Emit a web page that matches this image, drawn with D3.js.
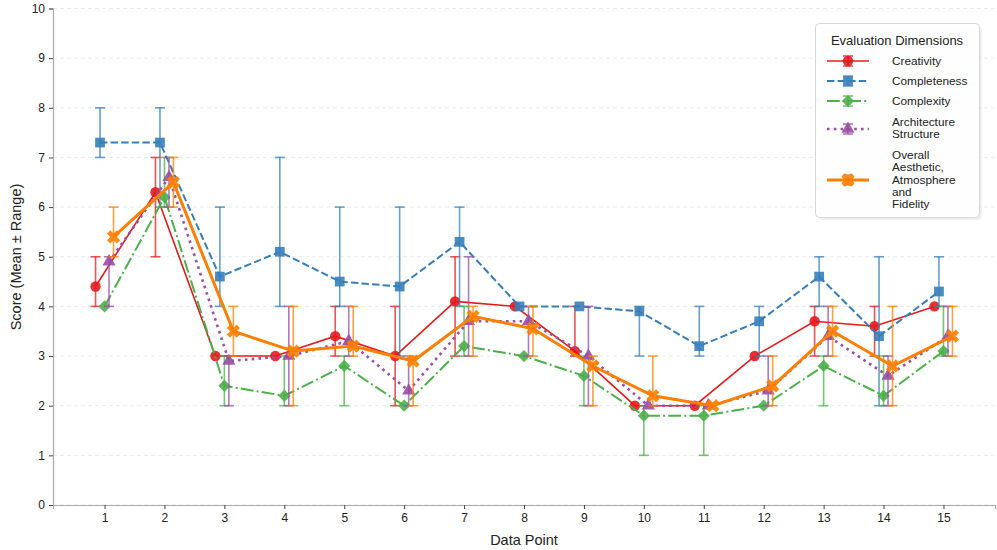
<!DOCTYPE html>
<html>
<head>
<meta charset="utf-8">
<script src="https://cdn.jsdelivr.net/npm/d3@7"></script>
<style>
  body { margin: 0; background: #fff; }
  text { font-family: "Liberation Sans", Arial, Helvetica, sans-serif; fill: #222; }
</style>
</head>
<body>
<div id="chart"></div>
<script>
// data points 1..15
var points = d3.range(1, 16);
var seriesNames = ["Creativity", "Completeness", "Complexity", "Architecture Structure", "Overall Aesthetic, Atmosphere and Fidelity"];
var legendLabels = [["Creativity"], ["Completeness"], ["Complexity"], ["Architecture", "Structure"], ["Overall", "Aesthetic,", "Atmosphere", "and", "Fidelity"]];

var creativityMean = [4.4, 6.3, 3.0, 3.0, 3.4, 3.0, 4.1, 4.0, 3.1, 2.0, 2.0, 3.0, 3.7, 3.6, 4.0];
var creativityMin  = [4, 5, 3, 3, 3, 2, 3, 4, 3, 2, 2, 3, 3, 3, 4];
var creativityMax  = [5, 7, 3, 3, 4, 4, 5, 4, 4, 2, 2, 3, 4, 4, 4];

var completenessMean = [7.3, 7.3, 4.6, 5.1, 4.5, 4.4, 5.3, 4.0, 4.0, 3.9, 3.2, 3.7, 4.6, 3.4, 4.3];
var completenessMin  = [7, 6, 4, 4, 4, 3, 4, 4, 4, 3, 3, 3, 4, 2, 4];
var completenessMax  = [8, 8, 6, 7, 6, 6, 6, 4, 4, 4, 4, 4, 5, 5, 5];

var complexityMean = [4.0, 6.2, 2.4, 2.2, 2.8, 2.0, 3.2, 3.0, 2.6, 1.8, 1.8, 2.0, 2.8, 2.2, 3.1];
var complexityMin  = [4, 6, 2, 2, 2, 2, 3, 3, 2, 1, 1, 2, 2, 2, 3];
var complexityMax  = [4, 7, 3, 3, 3, 2, 4, 3, 3, 2, 2, 2, 3, 3, 4];

var architectureMean = [4.9, 6.6, 2.9, 3.0, 3.3, 2.3, 3.7, 3.7, 3.0, 2.0, 2.0, 2.3, 3.4, 2.6, 3.4];
var architectureMin  = [4, 6, 2, 2, 3, 2, 3, 3, 2, 2, 2, 2, 3, 2, 3];
var architectureMax  = [5, 7, 3, 4, 4, 3, 5, 4, 4, 2, 2, 3, 4, 3, 4];

var overallMean = [5.4, 6.5, 3.5, 3.1, 3.2, 2.9, 3.8, 3.55, 2.8, 2.2, 2.0, 2.4, 3.5, 2.8, 3.4];
var overallMin  = [5, 6, 3, 2, 3, 2, 3, 3, 2, 2, 2, 2, 3, 2, 3];
var overallMax  = [6, 7, 4, 4, 4, 3, 4, 4, 3, 3, 2, 3, 4, 4, 4];

var yTicks = d3.range(0, 11);

var colors = ["#e41a1c", "#377eb8", "#4daf4a", "#984ea3", "#ff7f00"];
var offsets = [-0.15, -0.075, 0, 0.075, 0.15];
var widths = [1.6, 2, 2, 2.6, 3];
var dashes = [null, "7.4,3.2", "12.8,3.2,2,3.2", "2.6,4.2", null];
var symbols = [d3.symbolCircle, d3.symbolSquare, d3.symbolSquare, d3.symbolTriangle, d3.symbolCross];
var symSizes = [85, 95, 75, 75, 110];
var symRot = [0, 0, 45, 0, 45];

var allSeries = [
  {mean: creativityMean, lo: creativityMin, hi: creativityMax},
  {mean: completenessMean, lo: completenessMin, hi: completenessMax},
  {mean: complexityMean, lo: complexityMin, hi: complexityMax},
  {mean: architectureMean, lo: architectureMin, hi: architectureMax},
  {mean: overallMean, lo: overallMin, hi: overallMax}
];

var width = 997, height = 550;
var svg = d3.select("#chart").append("svg")
    .attr("width", width)
    .attr("height", height);

var x = d3.scaleLinear().domain([0.14, 15.86]).range([53, 995]);
var y = d3.scaleLinear().domain([0, 10]).range([505, 8.5]);

// grid
svg.append("g").selectAll("line")
    .data(yTicks)
    .enter().append("line")
    .attr("x1", 53).attr("x2", 995)
    .attr("y1", function(d) { return y(d); })
    .attr("y2", function(d) { return y(d); })
    .attr("stroke", "#e4e4e4")
    .attr("stroke-width", 0.8)
    .attr("stroke-dasharray", "4,3");

// axes
var xAxis = svg.append("g")
    .attr("transform", "translate(0,505)")
    .call(d3.axisBottom(x).tickValues(points).tickFormat(d3.format("d")).tickSize(4).tickPadding(4));
var yAxis = svg.append("g")
    .attr("transform", "translate(53,0)")
    .call(d3.axisLeft(y).tickValues(yTicks).tickSize(4).tickPadding(4));
[xAxis, yAxis].forEach(function(a) {
    a.select(".domain").attr("stroke", "#aaa").attr("stroke-width", 1.2);
    a.selectAll(".tick line").attr("stroke", "#444");
    a.selectAll(".tick text").attr("font-size", 12).attr("fill", "#222")
        .attr("font-family", "Liberation Sans, Arial, sans-serif");
});

svg.append("text")
    .attr("x", 524).attr("y", 545)
    .attr("text-anchor", "middle")
    .attr("font-size", 14.5)
    .text("Data Point");
svg.append("text")
    .attr("transform", "translate(21,257) rotate(-90)")
    .attr("text-anchor", "middle")
    .attr("font-size", 14.5)
    .text("Score (Mean \u00b1 Range)");

function drawBar(g, cx, y1, y2, color) {
    g.append("line").attr("x1", cx).attr("x2", cx).attr("y1", y1).attr("y2", y2)
        .attr("stroke", color).attr("stroke-width", 1.6).attr("opacity", 0.75);
    [y1, y2].forEach(function(yy) {
        g.append("line").attr("x1", cx - 5).attr("x2", cx + 5).attr("y1", yy).attr("y2", yy)
            .attr("stroke", color).attr("stroke-width", 1.6).attr("opacity", 0.75);
    });
}

function drawSymbol(g, cx, cy, i) {
    g.append("path")
        .attr("d", d3.symbol().type(symbols[i]).size(symSizes[i])())
        .attr("transform", "translate(" + cx + "," + cy + ") rotate(" + symRot[i] + ")")
        .attr("fill", colors[i])
        .attr("opacity", 0.9);
}

allSeries.forEach(function(s, i) {
    var g = svg.append("g");
    var xs = points.map(function(p) { return x(p + offsets[i]); });
    points.forEach(function(p, j) {
        if (s.hi[j] !== s.lo[j]) drawBar(g, xs[j], y(s.hi[j]), y(s.lo[j]), colors[i]);
    });
    var line = d3.line()
        .x(function(d, j) { return xs[j]; })
        .y(function(d) { return y(d); });
    g.append("path")
        .datum(s.mean)
        .attr("d", line)
        .attr("fill", "none")
        .attr("stroke", colors[i])
        .attr("stroke-width", widths[i])
        .attr("stroke-dasharray", dashes[i]);
    s.mean.forEach(function(m, j) { drawSymbol(g, xs[j], y(m), i); });
});

// legend
var lg = svg.append("g");
lg.append("rect")
    .attr("x", 818).attr("y", 26).attr("width", 164).attr("height", 194)
    .attr("rx", 4).attr("fill", "#000").attr("opacity", 0.06);
lg.append("rect")
    .attr("x", 815.5).attr("y", 23.5).attr("width", 164).attr("height", 194)
    .attr("rx", 4).attr("fill", "#fff").attr("fill-opacity", 0.9)
    .attr("stroke", "#d6d6d6").attr("stroke-width", 1);
lg.append("text")
    .attr("x", 897).attr("y", 45)
    .attr("text-anchor", "middle")
    .attr("font-size", 13)
    .text("Evaluation Dimensions");

var rowY = [61, 81, 101, 129, 180];
var labelTop = [61, 81, 101, 122, 155];
legendLabels.forEach(function(lines, i) {
    var cy = rowY[i];
    lg.append("line")
        .attr("x1", 827).attr("x2", 869).attr("y1", cy).attr("y2", cy)
        .attr("stroke", colors[i]).attr("stroke-width", widths[i])
        .attr("stroke-dasharray", dashes[i]);
    drawBar(lg, 848, cy - 5, cy + 5, colors[i]);
    drawSymbol(lg, 848, cy, i);
    lines.forEach(function(t, k) {
        lg.append("text")
            .attr("x", 892).attr("y", labelTop[i] + k * 12.2)
            .attr("dy", "0.35em")
            .attr("font-size", 11.8)
            .text(t);
    });
});
</script>
</body>
</html>
